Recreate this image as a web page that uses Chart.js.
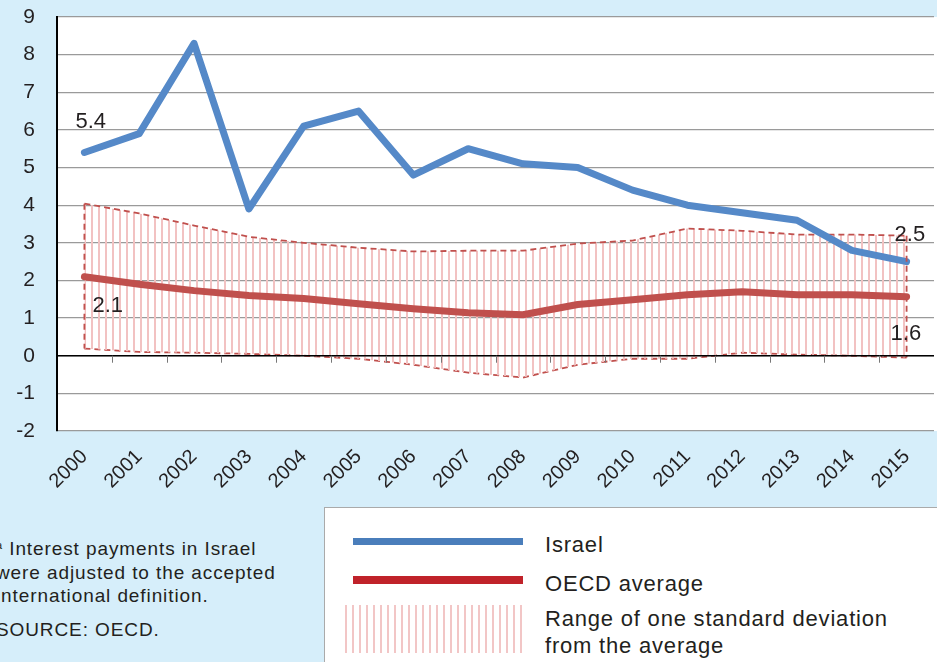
<!DOCTYPE html>
<html>
<head>
<meta charset="utf-8">
<script src="https://cdn.jsdelivr.net/npm/chart.js@4"></script>
<style>
  html, body { margin: 0; padding: 0; }
  body {
    width: 937px; height: 662px; overflow: hidden; position: relative;
    background: #d6eefa;
    font-family: "Liberation Sans", Arial, sans-serif; color: #231f20;
  }
  #wrap { position: absolute; left: 0; top: 0; width: 937px; height: 500px; }
  .note { position: absolute; left: -4px; top: 534px; font-size: 19px; line-height: 23.5px; letter-spacing: 0.9px; }
  .note p { margin: 0; }
  .note .src { margin-top: 10px; }
  .legend {
    position: absolute; left: 324px; top: 507px; width: 620px; height: 160px;
    background: #fff; border: 1px solid #aaa; box-sizing: border-box;
  }
  .item { position: absolute; font-size: 22px; line-height: 27px; letter-spacing: 0.8px; }
  .swatch { position: absolute; }
</style>
</head>
<body>
<div id="wrap"><canvas id="chart"></canvas></div>

<div class="note">
  <p><span style="font-size:11px;vertical-align:6px">a</span> Interest payments in Israel</p>
  <p>were adjusted to the accepted</p>
  <p>international definition.</p>
  <p class="src">SOURCE: OECD.</p>
</div>

<div class="legend">
  <div class="swatch" style="left:28px;top:30px;width:170px;height:7px;background:#4a7ebb"></div>
  <div class="item" style="left:220px;top:23px">Israel</div>
  <div class="swatch" style="left:28px;top:68px;width:170px;height:8px;background:#c0222a"></div>
  <div class="item" style="left:220px;top:62px">OECD average</div>
  <div class="swatch" style="left:20px;top:97px;width:182px;height:48px;
    background:repeating-linear-gradient(90deg, #f2c6c6 0 2px, transparent 2px 7px)"></div>
  <div class="item" style="left:220px;top:97px">Range of one standard deviation<br>from the average</div>
</div>

<script>
// values
const years = ["2000", "2001", "2002", "2003", "2004", "2005", "2006", "2007",
  "2008", "2009", "2010", "2011", "2012", "2013", "2014", "2015"];
const israel = [5.4, 5.9, 8.3, 3.9, 6.1, 6.5, 4.8, 5.5, 5.1, 5.0, 4.4, 4.0, 3.8, 3.6, 2.8, 2.5];
const oecdAvg = [2.1, 1.9, 1.73, 1.6, 1.52, 1.38, 1.25, 1.14, 1.09, 1.36, 1.49, 1.62, 1.7, 1.62, 1.62, 1.57];
const bandUpper = [4.04, 3.78, 3.46, 3.16, 3.0, 2.87, 2.77, 2.79, 2.79, 2.98, 3.06, 3.38, 3.32, 3.22, 3.22, 3.19];
const bandLower = [0.19, 0.1, 0.08, 0.05, 0.0, -0.08, -0.24, -0.45, -0.58, -0.24, -0.08, -0.08, 0.08, 0.03, 0.0, -0.05];
const yTicks = [-2, -1, 0, 1, 2, 3, 4, 5, 6, 7, 8, 9];
const pointLabels = [
  { series: "israel", index: 0, text: "5.4", dx: -9, dy: -31 },
  { series: "israel", index: 15, text: "2.5", dx: -12, dy: -27 },
  { series: "oecd", index: 0, text: "2.1", dx: 8, dy: 29 },
  { series: "oecd", index: 15, text: "1.6", dx: -16, dy: 37 },
];

const blue = "#5589c8";
const red = "#c0504d";

function hatch() {
  const c = document.createElement("canvas");
  c.width = 7; c.height = 4;
  const g = c.getContext("2d");
  g.fillStyle = "#f2c2c2";
  g.fillRect(0, 0, 2, 4);
  return g.createPattern(c, "repeat");
}

const plotDecor = {
  id: "plotDecor",
  beforeDraw(chart) {
    const { ctx, chartArea: a } = chart;
    ctx.save();
    ctx.fillStyle = "#fff";
    ctx.fillRect(a.left, a.top, a.right - a.left + 3, a.bottom - a.top);
    ctx.restore();
  },
  afterDatasetsDraw(chart) {
    const { ctx, scales: { x, y } } = chart;
    ctx.save();
    // dashed closing edges of the band
    ctx.strokeStyle = red;
    ctx.lineWidth = 1.8;
    ctx.setLineDash([6, 4]);
    [0, years.length - 1].forEach((i) => {
      const px = x.getPixelForValue(i);
      ctx.beginPath();
      ctx.moveTo(px, y.getPixelForValue(bandUpper[i]));
      ctx.lineTo(px, y.getPixelForValue(bandLower[i]));
      ctx.stroke();
    });
    ctx.setLineDash([]);
    // zero line and category tick marks
    const y0 = y.getPixelForValue(0);
    ctx.strokeStyle = "#000";
    ctx.lineWidth = 1.5;
    ctx.beginPath();
    ctx.moveTo(chart.chartArea.left, y0);
    ctx.lineTo(chart.chartArea.right, y0);
    ctx.stroke();
    ctx.strokeStyle = "#777";
    ctx.lineWidth = 1;
    for (let i = 1; i < years.length; i++) {
      const px = Math.round((x.getPixelForValue(i - 1) + x.getPixelForValue(i)) / 2) + 0.5;
      ctx.beginPath();
      ctx.moveTo(px, y0);
      ctx.lineTo(px, y0 + 7);
      ctx.stroke();
    }
    // point labels
    ctx.fillStyle = "#231f20";
    ctx.font = "22px 'Liberation Sans', Arial, sans-serif";
    ctx.textBaseline = "middle";
    pointLabels.forEach((l) => {
      const v = l.series === "israel" ? israel[l.index] : oecdAvg[l.index];
      ctx.fillText(l.text, x.getPixelForValue(l.index) + l.dx, y.getPixelForValue(v) + l.dy);
    });
    ctx.restore();
  },
};

new Chart(document.getElementById("chart"), {
  type: "line",
  data: {
    labels: years,
    datasets: [
      { label: "Israel", data: israel, borderColor: blue, borderWidth: 7, pointRadius: 0,
        tension: 0, fill: false, borderCapStyle: "round", borderJoinStyle: "round" },
      { label: "OECD average", data: oecdAvg, borderColor: red, borderWidth: 7, pointRadius: 0,
        tension: 0, fill: false, borderCapStyle: "round", borderJoinStyle: "round" },
      { label: "upper", data: bandUpper, borderColor: red, borderWidth: 1.8, borderDash: [6, 4],
        pointRadius: 0, tension: 0, fill: "+1", backgroundColor: hatch() },
      { label: "lower", data: bandLower, borderColor: red, borderWidth: 1.8, borderDash: [6, 4],
        pointRadius: 0, tension: 0, fill: false },
    ],
  },
  options: {
    responsive: true,
    maintainAspectRatio: false,
    animation: false,
    layout: { padding: { top: 17, right: 3, left: 0, bottom: 0 } },
    plugins: { legend: { display: false }, tooltip: { enabled: false } },
    scales: {
      x: {
        offset: true,
        grid: { display: false },
        border: { display: false },
        ticks: {
          color: "#231f20", minRotation: 45, maxRotation: 45, padding: 6,
          font: { family: "'Liberation Sans', Arial, sans-serif", size: 20 },
        },
        afterFit: (s) => { s.height = 69; },
      },
      y: {
        min: -2,
        max: 9,
        afterBuildTicks: (s) => { s.ticks = yTicks.map((v) => ({ value: v })); },
        grid: { color: "#9a9a9a", lineWidth: 1.2, drawTicks: false },
        border: { color: "#000", width: 2 },
        ticks: {
          color: "#231f20", padding: 22,
          font: { family: "'Liberation Sans', Arial, sans-serif", size: 21 },
        },
        afterFit: (s) => { s.width = 57; s.paddingTop = 0; s.paddingBottom = 0; },
      },
    },
  },
  plugins: [plotDecor],
});
</script>
</body>
</html>
